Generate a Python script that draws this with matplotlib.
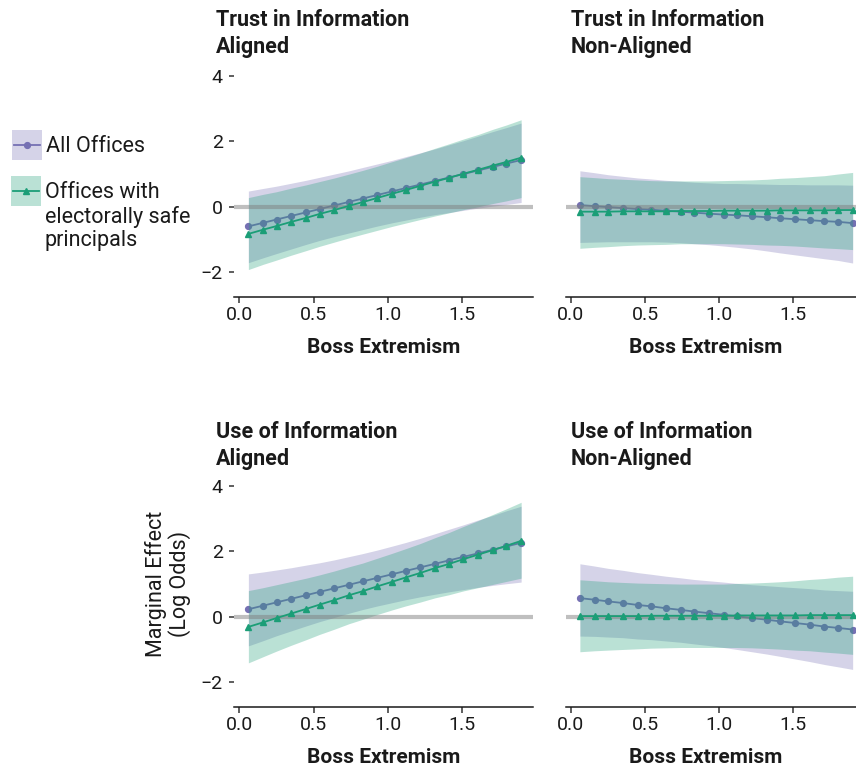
import matplotlib
matplotlib.use("Agg")
import matplotlib.pyplot as plt
from matplotlib.patches import Rectangle

plt.rcParams['font.family'] = ['Roboto', 'DejaVu Sans']

# Boss extremism grid where the marginal effects were evaluated
boss_extremism = [0.06, 0.16, 0.25, 0.35, 0.45, 0.54, 0.64, 0.74, 0.83, 0.93,
                  1.03, 1.12, 1.22, 1.32, 1.41, 1.51, 1.61, 1.71, 1.80, 1.90]

# Trust in information, aligned
trust_al_all_est = [-0.60, -0.49, -0.39, -0.28, -0.17, -0.07, 0.04, 0.15, 0.25, 0.36,
                    0.47, 0.57, 0.68, 0.79, 0.89, 1.00, 1.11, 1.22, 1.32, 1.43]
trust_al_all_lo = [-1.71, -1.56, -1.43, -1.29, -1.15, -1.03, -0.91, -0.80, -0.70, -0.59,
                   -0.49, -0.41, -0.32, -0.24, -0.18, -0.11, -0.04, 0.02, 0.07, 0.13]
trust_al_all_hi = [0.48, 0.56, 0.63, 0.72, 0.81, 0.90, 1.00, 1.10, 1.20, 1.31,
                   1.42, 1.53, 1.65, 1.77, 1.89, 2.02, 2.16, 2.30, 2.42, 2.56]
trust_al_safe_est = [-0.83, -0.70, -0.59, -0.46, -0.34, -0.22, -0.10, 0.03, 0.14, 0.27,
                     0.40, 0.51, 0.64, 0.77, 0.88, 1.01, 1.13, 1.26, 1.37, 1.50]
trust_al_safe_lo = [-1.92, -1.76, -1.63, -1.48, -1.34, -1.21, -1.08, -0.95, -0.84, -0.72,
                    -0.60, -0.50, -0.39, -0.28, -0.19, -0.09, 0.00, 0.10, 0.18, 0.28]
trust_al_safe_hi = [0.28, 0.38, 0.46, 0.57, 0.67, 0.77, 0.88, 1.00, 1.11, 1.24,
                    1.38, 1.50, 1.64, 1.79, 1.92, 2.07, 2.21, 2.37, 2.50, 2.66]

# Trust in information, non-aligned
trust_na_all_est = [0.05, 0.02, -0.01, -0.04, -0.07, -0.09, -0.12, -0.15, -0.18, -0.21,
                    -0.24, -0.26, -0.29, -0.32, -0.35, -0.38, -0.41, -0.44, -0.46, -0.50]
trust_na_all_lo = [-1.09, -1.08, -1.07, -1.07, -1.07, -1.07, -1.08, -1.10, -1.13, -1.16,
                   -1.20, -1.24, -1.29, -1.35, -1.41, -1.47, -1.53, -1.59, -1.64, -1.72]
trust_na_all_hi = [1.10, 1.04, 0.98, 0.93, 0.88, 0.85, 0.81, 0.78, 0.75, 0.73,
                   0.71, 0.71, 0.70, 0.69, 0.68, 0.68, 0.67, 0.67, 0.67, 0.66]
trust_na_safe_est = [-0.15, -0.15, -0.15, -0.14, -0.14, -0.14, -0.14, -0.13, -0.13, -0.13,
                     -0.12, -0.12, -0.12, -0.12, -0.11, -0.11, -0.11, -0.11, -0.10, -0.10]
trust_na_safe_lo = [-1.27, -1.24, -1.22, -1.19, -1.17, -1.16, -1.15, -1.13, -1.13, -1.13,
                    -1.13, -1.14, -1.15, -1.17, -1.18, -1.20, -1.23, -1.26, -1.28, -1.31]
trust_na_safe_hi = [0.92, 0.89, 0.86, 0.84, 0.82, 0.80, 0.79, 0.79, 0.79, 0.79,
                    0.80, 0.81, 0.82, 0.84, 0.87, 0.89, 0.92, 0.95, 1.00, 1.05]

# Use of information, aligned
use_al_all_est = [0.23, 0.34, 0.44, 0.55, 0.66, 0.76, 0.87, 0.98, 1.08, 1.19,
                  1.30, 1.40, 1.51, 1.62, 1.72, 1.83, 1.94, 2.05, 2.15, 2.26]
use_al_all_lo = [-0.89, -0.73, -0.58, -0.43, -0.28, -0.15, -0.02, 0.11, 0.22, 0.33,
                 0.43, 0.52, 0.61, 0.69, 0.76, 0.83, 0.90, 0.96, 1.01, 1.06]
use_al_all_hi = [1.31, 1.37, 1.43, 1.50, 1.58, 1.65, 1.74, 1.84, 1.93, 2.04,
                 2.16, 2.27, 2.40, 2.54, 2.67, 2.81, 2.96, 3.10, 3.24, 3.38]
use_al_safe_est = [-0.31, -0.17, -0.04, 0.10, 0.24, 0.37, 0.51, 0.66, 0.78, 0.93,
                   1.07, 1.20, 1.34, 1.49, 1.61, 1.76, 1.90, 2.04, 2.17, 2.32]
use_al_safe_lo = [-1.41, -1.22, -1.05, -0.87, -0.70, -0.54, -0.38, -0.21, -0.08, 0.07,
                  0.21, 0.33, 0.45, 0.58, 0.67, 0.79, 0.89, 0.99, 1.08, 1.18]
use_al_safe_hi = [0.80, 0.89, 0.98, 1.08, 1.18, 1.28, 1.40, 1.53, 1.64, 1.79,
                  1.94, 2.08, 2.24, 2.42, 2.57, 2.76, 2.94, 3.13, 3.30, 3.50]

# Use of information, non-aligned
use_na_all_est = [0.57, 0.52, 0.47, 0.42, 0.36, 0.32, 0.26, 0.21, 0.16, 0.11,
                  0.06, 0.01, -0.04, -0.09, -0.14, -0.19, -0.24, -0.30, -0.34, -0.39]
use_na_all_lo = [-0.59, -0.60, -0.62, -0.64, -0.68, -0.70, -0.74, -0.78, -0.83, -0.88,
                 -0.94, -1.00, -1.07, -1.14, -1.21, -1.29, -1.37, -1.46, -1.53, -1.61]
use_na_all_hi = [1.62, 1.55, 1.48, 1.42, 1.35, 1.30, 1.24, 1.19, 1.14, 1.10,
                 1.06, 1.02, 0.98, 0.95, 0.92, 0.89, 0.86, 0.82, 0.80, 0.78]
use_na_safe_est = [0.02, 0.02, 0.02, 0.02, 0.02, 0.03, 0.03, 0.03, 0.03, 0.03,
                   0.03, 0.04, 0.04, 0.04, 0.04, 0.04, 0.05, 0.05, 0.05, 0.05]
use_na_safe_lo = [-1.07, -1.04, -1.02, -1.00, -0.98, -0.96, -0.95, -0.94, -0.94, -0.94,
                  -0.94, -0.94, -0.95, -0.97, -0.99, -1.02, -1.04, -1.08, -1.11, -1.15]
use_na_safe_hi = [1.13, 1.10, 1.07, 1.05, 1.03, 1.02, 1.01, 1.00, 1.00, 1.00,
                  1.00, 1.02, 1.03, 1.05, 1.07, 1.10, 1.14, 1.17, 1.21, 1.24]

panel_titles = ["Trust in Information\nAligned", "Trust in Information\nNon-Aligned",
                "Use of Information\nAligned", "Use of Information\nNon-Aligned"]
series_labels = ["All Offices", "Offices with\nelectorally safe\nprincipals"]
x_ticks = [0.0, 0.5, 1.0, 1.5]
x_tick_labels = ["0.0", "0.5", "1.0", "1.5"]
y_ticks = [-2, 0, 2, 4]

PURPLE = "#7570b3"
GREEN = "#1b9e77"
FILL_ALPHA = 0.3
INK = "#1a1a1a"

W, H = 856, 767
fig = plt.figure(figsize=(W / 100, H / 100), dpi=100)


def px_axes(left, top, right, bottom):
    # axes from pixel box (origin top-left)
    return fig.add_axes([left / W, 1 - bottom / H, (right - left) / W, (bottom - top) / H])


def draw_panel(ax, all_est, all_lo, all_hi, safe_est, safe_lo, safe_hi, show_y):
    x = boss_extremism
    ax.fill_between(x, all_lo, all_hi, color=PURPLE, alpha=FILL_ALPHA, lw=0, zorder=1)
    ax.plot(x, all_est, color=PURPLE, lw=1.3, marker="o", ms=4.2, zorder=2)
    ax.fill_between(x, safe_lo, safe_hi, color=GREEN, alpha=FILL_ALPHA, lw=0, zorder=3)
    ax.axhline(0, color="#808080", lw=3, alpha=0.5, zorder=4)
    ax.plot(x, safe_est, color=GREEN, lw=1.3, marker="^", ms=4.2, zorder=5)

    ax.set_xlim(-0.037, 1.98)
    ax.set_ylim(-2.75, 4.2)
    for s in ("top", "right", "left"):
        ax.spines[s].set_visible(False)
    ax.spines["bottom"].set_color(INK)
    ax.spines["bottom"].set_linewidth(1.1)
    ax.set_xticks(x_ticks)
    ax.set_xticklabels(x_tick_labels)
    ax.tick_params(axis="x", length=4, width=1.1, color="#333333", labelsize=14,
                   labelcolor=INK, pad=3)
    if show_y:
        ax.set_yticks(y_ticks)
        ax.tick_params(axis="y", length=3.5, width=1.1, color="#333333", labelsize=14,
                       labelcolor=INK, pad=4.5)
    else:
        ax.set_yticks([])
    ax.set_xlabel("Boss Extremism", fontsize=15, fontweight="bold", color=INK)


# pixel boxes: left, top, right, bottom
ax_tl = px_axes(234, 69.4, 533, 296.7)
ax_tr = px_axes(565.5, 69.4, 864.5, 296.7)
ax_bl = px_axes(234, 479.4, 533, 706.7)
ax_br = px_axes(565.5, 479.4, 864.5, 706.7)

draw_panel(ax_tl, trust_al_all_est, trust_al_all_lo, trust_al_all_hi,
           trust_al_safe_est, trust_al_safe_lo, trust_al_safe_hi, True)
draw_panel(ax_tr, trust_na_all_est, trust_na_all_lo, trust_na_all_hi,
           trust_na_safe_est, trust_na_safe_lo, trust_na_safe_hi, False)
draw_panel(ax_bl, use_al_all_est, use_al_all_lo, use_al_all_hi,
           use_al_safe_est, use_al_safe_lo, use_al_safe_hi, True)
draw_panel(ax_br, use_na_all_est, use_na_all_lo, use_na_all_hi,
           use_na_safe_est, use_na_safe_lo, use_na_safe_hi, False)

ax_tl.xaxis.set_label_coords(0.5, -0.182)
ax_bl.xaxis.set_label_coords(0.5, -0.182)
ax_tr.xaxis.set_label_coords(0.47, -0.182)
ax_br.xaxis.set_label_coords(0.47, -0.182)

# panel titles
title_pos = [(216, 9), (571, 9), (216, 421), (571, 421)]
for (tx, ty), t in zip(title_pos, panel_titles):
    fig.text(tx / W, 1 - ty / H, t, ha="left", va="top", fontsize=15.5,
             fontweight="bold", color=INK, linespacing=1.3)

fig.text(168 / W, 1 - 584 / H, "Marginal Effect\n(Log Odds)", rotation=90,
         ha="center", va="center", multialignment="center", fontsize=15.5, color=INK,
         linespacing=1.05)

# legend, drawn by hand so the multi-line key sits on the first line
lg = fig.add_axes([0, 0, 1, 1])
lg.set_xlim(0, W)
lg.set_ylim(H, 0)
lg.set_axis_off()
keys = [(12, 130, PURPLE, "o"), (11, 176, GREEN, "^")]
for (kx, ky, col, mk), lab in zip(keys, series_labels):
    lg.add_patch(Rectangle((kx, ky), 30, 30, facecolor=col, alpha=FILL_ALPHA, lw=0))
    lg.plot([kx + 2, kx + 28], [ky + 15, ky + 15], color=col, lw=1.3)
    lg.plot([kx + 15], [ky + 15], color=col, marker=mk, ms=4.2)
    lg.text(kx + 34, ky + 6, lab, ha="left", va="top", fontsize=15.5, color=INK,
            linespacing=1.15)

fig.savefig("out.png", dpi=100)
